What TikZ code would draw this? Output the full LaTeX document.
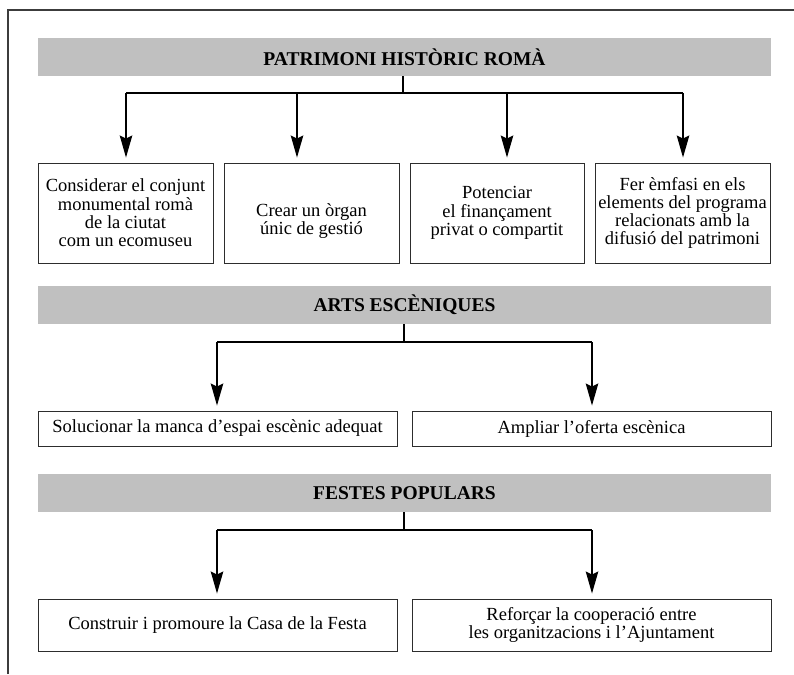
\documentclass[tikz,border=0pt]{standalone}
\usepackage{fontspec}
\setmainfont{Liberation Serif}
\usetikzlibrary{arrows.meta}
\definecolor{barGray}{RGB}{192,192,192}
\definecolor{boxLine}{RGB}{45,45,45}
\definecolor{frameLine}{RGB}{60,60,60}
\newcommand\myboxfont{\fontsize{18.5}{18.3}\selectfont}
\newcommand\mytitlefont{\fontsize{19.5}{20}\selectfont\bfseries}
\tikzset{
  bar/.style={fill=barGray, draw=none, minimum width=733pt, minimum height=38pt, inner sep=0pt, font=\mytitlefont},
  stepbox/.style={draw=boxLine, line width=0.9pt, align=center, inner sep=0pt, font=\myboxfont},
  boxtext/.style={align=center, inner sep=0pt, font=\myboxfont},
  link/.style={line width=1.3pt, draw=black},
  arr/.style={link, -{Stealth[length=22pt, width=12.5pt, inset=3pt]}, shorten >=5pt},
  frame/.style={line width=1.4pt, draw=frameLine}
}
\begin{document}
\begin{tikzpicture}[x=1pt, y=-1pt]
\useasboundingbox (0,0) rectangle (794,674);
% outer frame (only top and left edges visible)
\draw[frame] (8,674) -- (8,10) -- (794,10);

% ---------- PATRIMONI HISTORIC ROMA ----------
\node[bar] (bar1) at (404.5,57) {PATRIMONI HISTÒRIC ROMÀ};
\node[stepbox, minimum width=175pt, minimum height=100pt] (b11) at (125.5,213)
  {Considerar el conjunt\\monumental romà\\de la ciutat\\com un ecomuseu};
\node[stepbox, minimum width=175pt, minimum height=100pt] (b12) at (311.5,213) {};
\node[boxtext] (t12) at (311.5,221) {Crear un òrgan\\únic de gestió};
\node[stepbox, minimum width=174pt, minimum height=100pt] (b13) at (497,213)
  {Potenciar\\el finançament\\privat o compartit};
\node[stepbox, minimum width=175pt, minimum height=100pt] (b14) at (682.5,213)
  {Fer èmfasi en els\\elements del programa\\relacionats amb la\\difusió del patrimoni};
\coordinate (j1) at (403,93);
\coordinate (k11) at (126,93);
\coordinate (k12) at (297,93);
\coordinate (k13) at (507,93);
\coordinate (k14) at (683,93);
\draw[link] (bar1.south -| j1) -- (j1);
\draw[link] (k11) -- (k14);
\draw[arr] (k11) -- (k11 |- b11.north);
\draw[arr] (k12) -- (k12 |- b12.north);
\draw[arr] (k13) -- (k13 |- b13.north);
\draw[arr] (k14) -- (k14 |- b14.north);

% ---------- ARTS ESCENIQUES ----------
\node[bar] (bar2) at (404.5,305) {ARTS ESCÈNIQUES};
\node[stepbox, minimum width=359pt, minimum height=35pt] (b21) at (217.5,428.5)
  {Solucionar la manca d’espai escènic adequat};
\node[stepbox, minimum width=359pt, minimum height=35pt] (b22) at (591.5,428.5)
  {Ampliar l’oferta escènica};
\coordinate (j2) at (404,342);
\coordinate (k21) at (217,342);
\coordinate (k22) at (592,342);
\draw[link] (bar2.south -| j2) -- (j2);
\draw[link] (k21) -- (k22);
\draw[arr] (k21) -- (k21 |- b21.north);
\draw[arr] (k22) -- (k22 |- b22.north);

% ---------- FESTES POPULARS ----------
\node[bar] (bar3) at (404.5,493) {FESTES POPULARS};
\node[stepbox, minimum width=359pt, minimum height=52pt] (b31) at (217.5,625)
  {Construir i promoure la Casa de la Festa};
\node[stepbox, minimum width=359pt, minimum height=52pt] (b32) at (591.5,625)
  {Reforçar la cooperació entre\\les organitzacions i l’Ajuntament};
\coordinate (j3) at (404,530);
\coordinate (k31) at (217,530);
\coordinate (k32) at (592,530);
\draw[link] (bar3.south -| j3) -- (j3);
\draw[link] (k31) -- (k32);
\draw[arr] (k31) -- (k31 |- b31.north);
\draw[arr] (k32) -- (k32 |- b32.north);
\end{tikzpicture}
\end{document}
